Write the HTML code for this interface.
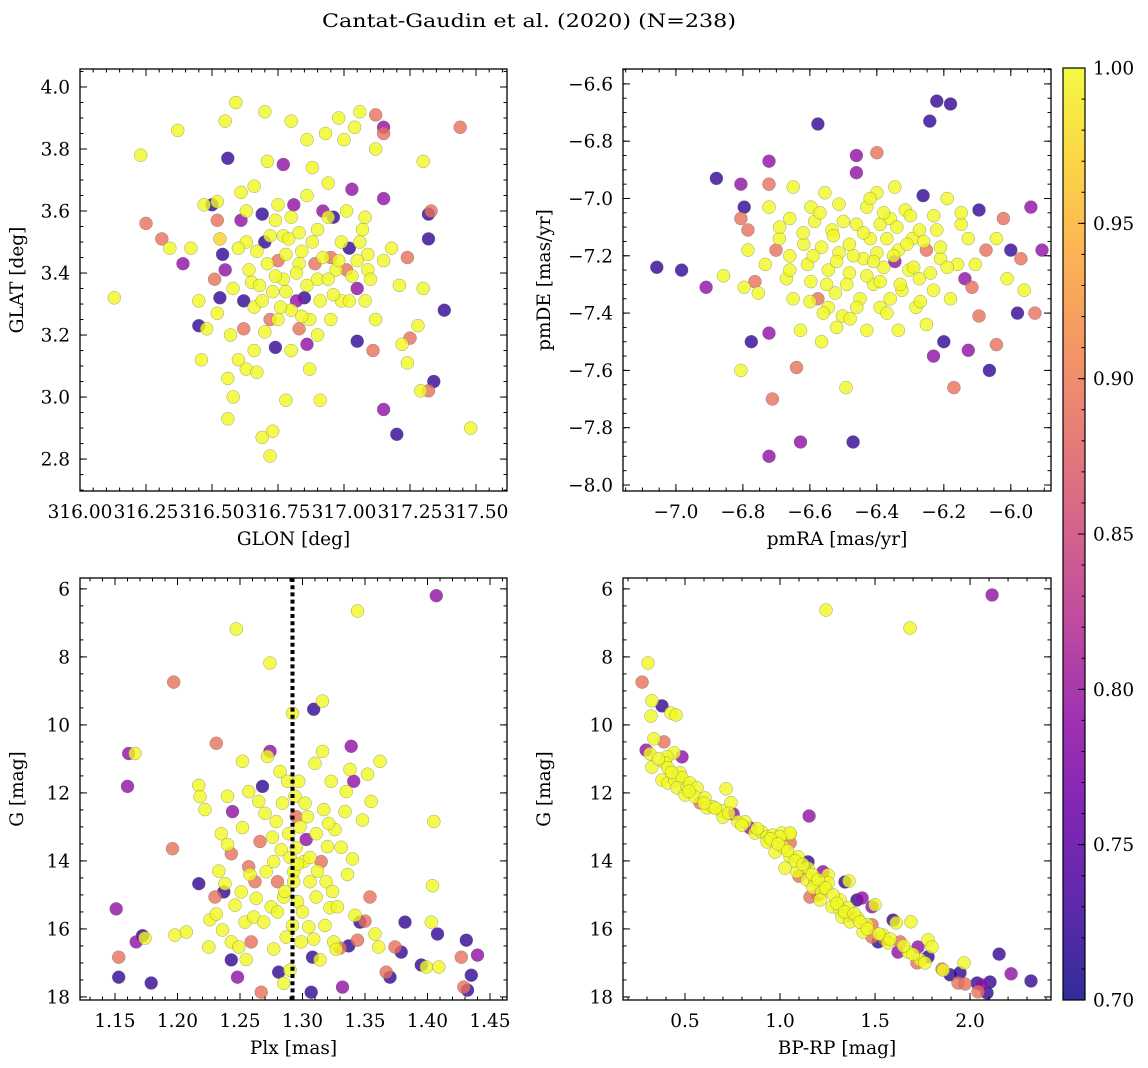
<!DOCTYPE html>
<html><head><meta charset="utf-8"><style>
html,body{margin:0;padding:0;background:#fff;}
svg{display:block;font-family:"DejaVu Serif","Liberation Serif",serif;}
</style></head><body>
<svg id="fig" width="1148" height="1068" viewBox="0 0 1148 1068" xmlns="http://www.w3.org/2000/svg">
<defs>
<linearGradient id="plasma" x1="0" y1="1" x2="0" y2="0">
<stop offset="0" stop-color="#0d0887"/><stop offset="0.1" stop-color="#41049d"/><stop offset="0.2" stop-color="#6a00a8"/><stop offset="0.3" stop-color="#8f0da4"/><stop offset="0.4" stop-color="#b12a90"/><stop offset="0.5" stop-color="#cc4778"/><stop offset="0.6" stop-color="#e16462"/><stop offset="0.7" stop-color="#f2844b"/><stop offset="0.8" stop-color="#fca636"/><stop offset="0.9" stop-color="#fcce25"/><stop offset="1" stop-color="#f0f921"/>
</linearGradient>
</defs>
<text x="529" y="27" text-anchor="middle" font-size="19" textLength="414" lengthAdjust="spacingAndGlyphs">Cantat-Gaudin et al. (2020) (N=238)</text>
</svg>
<script>
// ---- data: [x, y, membership probability] ----
const tlData=[[316.13,3.32,1],[316.23,3.78,1],[316.25,3.56,.89],[316.31,3.51,.89],[316.34,3.48,1],[316.37,3.86,1],[316.39,3.43,.79],[316.42,3.48,1],[316.45,3.31,1],[316.45,3.23,.72],[316.46,3.12,1],[316.47,3.62,1],[316.48,3.22,1],[316.50,3.62,.72],[316.51,3.38,.89],[316.52,3.57,.89],[316.52,3.63,1],[316.53,3.51,.97],[316.53,3.32,.72],[316.54,3.46,.72],[316.55,3.41,.79],[316.55,3.89,1],[316.56,3.77,.72],[316.56,2.93,1],[316.56,3.06,1],[316.57,3.20,1],[316.58,3.00,1],[316.59,3.95,1],[316.61,3.57,.79],[316.61,3.66,1],[316.62,3.31,.72],[316.63,3.09,1],[316.63,3.50,1],[316.65,3.37,1],[316.66,3.29,1],[316.67,3.08,1],[316.69,2.87,1],[316.69,3.59,.72],[316.70,3.50,.72],[316.70,3.92,1],[316.71,3.76,1],[316.72,3.25,.89],[316.72,2.81,1],[316.73,2.89,1],[316.74,3.16,.72],[316.75,3.44,.89],[316.75,3.62,1],[316.77,3.52,1],[316.77,3.75,.79],[316.78,2.99,1],[316.78,3.34,1],[316.80,3.89,1],[316.80,3.15,1],[316.81,3.62,.79],[316.82,3.31,.79],[316.83,3.43,1],[316.83,3.22,.89],[316.84,3.47,1],[316.85,3.32,.72],[316.86,3.17,.79],[316.86,3.83,1],[316.87,3.09,1],[316.88,3.74,1],[316.89,3.43,.89],[316.90,3.54,1],[316.91,2.99,1],[316.91,3.31,1],[316.92,3.60,.79],[316.93,3.85,1],[316.94,3.69,1],[316.95,3.25,1],[316.95,3.45,.89],[316.96,3.58,.72],[316.97,3.41,1],[316.98,3.90,1],[316.99,3.31,1],[317.00,3.83,1],[317.01,3.41,.89],[317.02,3.48,.72],[317.03,3.67,.79],[317.04,3.87,1],[317.05,3.18,.72],[317.05,3.35,.79],[317.06,3.92,1],[317.07,3.54,1],[317.08,3.31,1],[317.09,3.46,1],[317.11,3.15,.89],[317.12,3.91,.89],[317.12,3.80,1],[317.15,3.87,.79],[317.15,3.85,.89],[317.15,3.64,.79],[317.15,3.44,1],[317.20,2.88,.72],[317.15,2.96,.79],[317.21,3.36,1],[317.22,3.17,1],[317.24,3.11,1],[317.24,3.45,.89],[317.25,3.19,.89],[317.28,3.23,1],[317.30,3.76,1],[317.29,3.02,1],[317.30,3.35,1],[317.32,3.51,.72],[317.32,3.59,.72],[317.33,3.60,.89],[317.34,3.05,.72],[317.32,3.02,.89],[317.38,3.28,.72],[317.44,3.87,.89],[317.48,2.90,1],[316.68,3.36,1],[316.73,3.34,1],[316.77,3.38,1],[316.80,3.28,1],[316.70,3.21,1],[316.75,3.25,1],[316.66,3.15,1],[316.87,3.25,1],[316.90,3.38,1],[316.94,3.38,1],[316.98,3.44,1],[317.02,3.31,1],[317.05,3.44,1],[317.09,3.41,1],[316.64,3.41,1],[316.60,3.48,1],[316.71,3.43,1],[316.83,3.53,1],[316.79,3.51,1],[316.62,3.22,.89],
[316.58,3.35,1],[316.60,3.12,1],[316.63,3.60,1],[316.67,3.47,1],[316.69,3.31,1],[316.72,3.52,1],[316.74,3.39,1],[316.76,3.29,1],[316.78,3.46,1],[316.80,3.58,1],[316.82,3.40,1],[316.84,3.26,1],[316.86,3.36,1],[316.88,3.50,1],[316.90,3.20,1],[316.92,3.45,1],[316.94,3.58,1],[316.96,3.33,1],[316.99,3.50,1],[317.01,3.60,1],[317.03,3.39,1],[317.06,3.50,1],[317.08,3.58,1],[317.10,3.38,1],[317.12,3.25,1],[316.74,3.57,1],[316.86,3.65,1],[316.66,3.68,1],[316.52,3.27,1],[317.18,3.48,1]];
const trData=[[-7.057,-7.24,.72],[-6.983,-7.25,.72],[-6.91,-7.31,.79],[-6.879,-6.93,.72],[-6.858,-7.27,1],[-6.806,-7.60,1],[-6.806,-6.95,.79],[-6.806,-7.07,.89],[-6.796,-7.31,1],[-6.785,-7.18,1],[-6.796,-7.03,.72],[-6.785,-7.11,.89],[-6.775,-7.50,.72],[-6.764,-7.29,.89],[-6.754,-7.33,1],[-6.733,-7.23,1],[-6.722,-6.87,.79],[-6.722,-6.95,.89],[-6.722,-7.47,.79],[-6.722,-7.03,1],[-6.712,-7.70,.89],[-6.722,-7.90,.79],[-6.701,-7.18,.89],[-6.691,-7.14,1],[-6.67,-7.28,1],[-6.66,-7.20,1],[-6.66,-7.07,1],[-6.65,-6.96,1],[-6.65,-7.35,1],[-6.64,-7.59,.89],[-6.628,-7.85,.79],[-6.628,-7.46,1],[-6.618,-7.16,1],[-6.607,-7.23,1],[-6.597,-7.03,1],[-6.597,-7.29,1],[-6.586,-7.08,1],[-6.576,-6.74,.72],[-6.576,-7.35,.89],[-6.565,-7.17,1],[-6.565,-7.50,1],[-6.555,-6.98,1],[-6.545,-7.25,1],[-6.545,-7.38,1],[-6.534,-7.11,1],[-6.524,-7.33,1],[-6.513,-7.19,1],[-6.513,-7.02,1],[-6.503,-7.41,1],[-6.492,-7.66,1],[-6.482,-7.16,1],[-6.482,-7.26,1],[-6.471,-7.85,.72],[-6.461,-6.85,.79],[-6.461,-6.91,.79],[-6.461,-7.09,1],[-6.45,-7.35,1],[-6.44,-7.21,1],[-6.43,-7.03,1],[-6.43,-7.46,1],[-6.42,-7.14,1],[-6.41,-7.30,1],[-6.40,-6.84,.89],[-6.40,-6.98,1],[-6.40,-7.19,1],[-6.39,-7.38,1],[-6.39,-7.09,1],[-6.38,-7.24,1],[-6.37,-7.14,1],[-6.36,-7.35,1],[-6.36,-7.07,1],[-6.346,-6.96,1],[-6.346,-7.22,.79],[-6.336,-7.46,1],[-6.336,-7.18,1],[-6.325,-7.32,1],[-6.315,-7.04,1],[-6.304,-7.25,1],[-6.294,-7.14,1],[-6.283,-7.38,1],[-6.273,-7.11,1],[-6.273,-7.28,1],[-6.262,-6.99,.72],[-6.252,-7.18,.89],[-6.252,-7.44,1],[-6.242,-6.73,.72],[-6.231,-7.55,.79],[-6.231,-7.32,1],[-6.221,-7.11,1],[-6.221,-6.66,.72],[-6.21,-7.21,1],[-6.2,-7.50,.72],[-6.19,-7.00,1],[-6.18,-6.67,.72],[-6.18,-7.35,1],[-6.17,-7.66,.89],[-6.159,-7.23,1],[-6.148,-7.09,1],[-6.148,-7.05,1],[-6.137,-7.28,.79],[-6.127,-7.14,1],[-6.127,-7.53,.79],[-6.116,-7.31,.89],[-6.106,-7.23,1],[-6.095,-7.04,.72],[-6.095,-7.41,.89],[-6.074,-7.18,.89],[-6.064,-7.60,.72],[-6.043,-7.51,.89],[-6.043,-7.14,1],[-6.022,-7.07,.89],[-6.011,-7.28,1],[-6.0,-7.18,.72],[-5.98,-7.40,.72],[-5.97,-7.21,.89],[-5.96,-7.32,1],[-5.94,-7.03,.79],[-5.928,-7.40,.89],[-5.907,-7.18,.79],
[-6.62,-7.12,1],[-6.59,-7.20,1],[-6.57,-7.05,1],[-6.55,-7.30,1],[-6.53,-7.13,1],[-6.52,-7.22,1],[-6.50,-7.08,1],[-6.49,-7.30,1],[-6.47,-7.20,1],[-6.46,-7.38,1],[-6.44,-7.12,1],[-6.43,-7.27,1],[-6.42,-7.00,1],[-6.41,-7.22,1],[-6.39,-7.29,1],[-6.38,-7.05,1],[-6.37,-7.40,1],[-6.35,-7.20,1],[-6.34,-7.10,1],[-6.33,-7.30,1],[-6.31,-7.16,1],[-6.30,-7.06,1],[-6.29,-7.24,1],[-6.27,-7.36,1],[-6.26,-7.15,1],[-6.24,-7.26,1],[-6.23,-7.06,1],[-6.21,-7.17,1],[-6.19,-7.24,1],[-6.56,-7.40,1],[-6.60,-7.36,1],[-6.52,-7.45,1],[-6.48,-7.42,1],[-6.66,-7.25,1],[-6.69,-7.10,1]];
const blData=[[1.151,15.41,.79],[1.153,16.83,.89],[1.153,17.42,.72],[1.160,11.81,.79],[1.161,10.84,.79],[1.166,10.84,1],[1.172,16.2,.72],[1.167,16.38,.79],[1.174,16.27,1],[1.179,17.59,.72],[1.196,13.64,.89],[1.197,8.74,.89],[1.198,16.18,1],[1.207,16.09,1],[1.217,14.67,.72],[1.217,11.78,1],[1.218,12.11,1],[1.222,12.49,1],[1.225,16.53,1],[1.226,15.73,1],[1.230,15.06,.89],[1.231,10.54,.89],[1.231,15.56,1],[1.235,13.2,1],[1.236,16.03,1],[1.237,14.91,.72],[1.238,14.67,1],[1.240,13.52,1],[1.243,16.91,.72],[1.243,13.79,.89],[1.243,16.38,1],[1.244,12.55,.79],[1.247,7.18,1],[1.248,17.42,.79],[1.249,16.53,1],[1.251,14.91,1],[1.252,11.07,1],[1.252,13.02,1],[1.254,15.8,1],[1.257,11.96,1],[1.257,14.17,.89],[1.259,16.38,.89],[1.261,15.65,1],[1.262,14.61,.89],[1.265,12.25,1],[1.266,13.43,.89],[1.267,17.86,.89],[1.268,11.81,.72],[1.269,15.8,1],[1.271,14.32,1],[1.272,10.93,1],[1.274,8.18,1],[1.274,10.78,.79],[1.275,15.35,1],[1.277,16.59,1],[1.277,14.02,1],[1.279,12.84,1],[1.280,14.61,.89],[1.281,17.27,.72],[1.282,11.37,1],[1.283,13.67,1],[1.285,15.06,1],[1.287,16.24,1],[1.288,11.66,1],[1.290,17.21,1],[1.290,13.9,1],[1.292,9.66,1],[1.293,14.32,1],[1.293,14.61,1],[1.295,13.61,1],[1.295,12.7,.89],[1.296,15.2,1],[1.297,11.66,1],[1.299,16.38,1],[1.301,14.02,1],[1.303,13.37,.79],[1.304,12.7,1],[1.305,15.94,1],[1.306,14.61,1],[1.307,17.86,.72],[1.308,16.83,.72],[1.309,9.54,.72],[1.310,11.13,1],[1.311,13.2,1],[1.311,15.06,1],[1.314,16.91,1],[1.315,14.02,.89],[1.316,10.78,1],[1.316,9.30,1],[1.317,12.49,1],[1.319,14.61,1],[1.320,13.58,1],[1.322,15.38,1],[1.323,11.66,1],[1.325,16.38,1],[1.326,13.08,1],[1.328,15.35,1],[1.330,16.56,.89],[1.332,17.71,.79],[1.334,12.55,1],[1.335,11.96,1],[1.337,16.50,.72],[1.338,11.31,1],[1.339,10.63,.79],[1.340,13.94,1],[1.341,11.66,.79],[1.344,6.65,1],[1.344,16.33,.89],[1.346,15.8,.72],[1.350,15.77,.89],[1.352,11.45,1],[1.354,15.06,.89],[1.355,12.25,1],[1.358,16.15,1],[1.361,16.53,1],[1.362,11.07,1],[1.367,17.27,.89],[1.370,17.42,.72],[1.374,16.53,.89],[1.379,16.68,.72],[1.382,15.8,.72],[1.407,6.2,.79],[1.395,17.06,.72],[1.399,17.12,1],[1.403,15.8,1],[1.404,14.73,1],[1.405,12.84,1],[1.408,16.15,.72],[1.409,17.12,1],[1.427,16.83,.89],[1.429,17.71,.89],[1.431,16.33,.72],[1.435,17.36,.72],[1.440,16.77,.79],[1.432,17.8,.72],
[1.258,14.4,1],[1.263,15.1,1],[1.270,12.6,1],[1.276,13.3,1],[1.280,15.5,1],[1.284,12.3,1],[1.286,14.9,1],[1.289,13.2,1],[1.292,15.9,1],[1.294,12.1,1],[1.296,14.1,1],[1.298,13.0,1],[1.300,15.5,1],[1.302,12.3,1],[1.306,13.9,1],[1.309,16.3,1],[1.312,14.3,1],[1.318,15.9,1],[1.321,12.9,1],[1.324,14.9,1],[1.327,16.6,1],[1.331,13.6,1],[1.336,14.4,1],[1.342,15.6,1],[1.348,12.8,1],[1.246,15.3,1],[1.240,12.1,1],[1.233,14.3,1],[1.255,16.9,1],[1.285,17.6,1]];
const brData=[[0.305,8.18,1],[0.274,8.74,.89],[0.326,9.29,1],[0.379,9.44,.72],[0.321,9.74,1],[0.426,9.65,1],[0.453,9.71,1],[0.337,10.41,1],[0.389,10.5,.89],[0.295,10.74,.79],[0.316,10.85,1],[0.484,10.94,.79],[0.442,10.82,1],[0.405,10.94,1],[0.326,11.24,1],[0.395,11.12,1],[0.41,11.26,1],[0.474,11.41,1],[0.379,11.62,1],[0.41,11.71,1],[0.447,11.62,1],[0.484,11.56,1],[0.458,11.85,1],[0.511,11.82,1],[0.526,11.71,1],[0.563,11.85,1],[0.5,12.06,1],[0.553,12.12,1],[0.605,12.15,1],[0.579,12.29,.89],[0.616,12.44,1],[0.647,12.41,1],[0.695,12.53,1],[0.7,12.71,1],[0.716,11.88,1],[0.742,12.29,1],[0.753,12.62,.79],[0.779,12.85,1],[0.816,12.85,1],[0.842,13.03,.79],[0.868,13.18,1],[0.905,13.15,1],[0.932,13.29,1],[0.963,13.24,1],[1.01,13.18,1],[1.053,13.21,1],[1.153,12.68,.79],[1.053,13.18,1],[1.0,13.29,1],[0.932,13.44,1],[0.974,13.74,1],[1.016,13.59,1],[1.053,13.47,.89],[1.053,13.88,1],[1.095,13.88,1],[1.147,14.03,.72],[1.026,14.21,1],[1.089,14.32,1],[1.147,14.21,1],[1.226,14.32,.79],[1.253,14.41,1],[1.142,14.56,1],[1.184,14.62,1],[1.253,14.65,1],[1.342,14.62,.72],[1.363,14.59,1],[1.174,14.79,1],[1.221,14.91,1],[1.158,15.06,.89],[1.211,15.15,1],[1.316,15.15,1],[1.405,15.15,.72],[1.432,15.09,.79],[1.274,15.35,1],[1.316,15.44,1],[1.358,15.38,1],[1.484,15.35,.79],[1.5,15.29,1],[1.326,15.65,1],[1.368,15.79,1],[1.41,15.68,1],[1.458,15.88,1],[1.484,15.88,.89],[1.595,15.74,.72],[1.611,15.82,1],[1.689,15.79,1],[1.437,16.09,1],[1.484,16.24,.89],[1.516,16.38,.72],[1.542,16.18,1],[1.568,16.41,1],[1.632,16.38,.89],[1.621,16.68,.79],[1.674,16.68,1],[1.726,16.53,.79],[1.779,16.32,1],[1.8,16.53,1],[1.779,16.82,.72],[1.737,16.91,1],[1.721,17.0,.89],[1.763,17.0,1],[1.853,17.18,.89],[1.858,17.21,1],[1.895,17.35,.72],[1.947,17.29,.72],[1.968,17.0,1],[1.937,17.59,.89],[1.974,17.62,.89],[2.037,17.59,.72],[2.063,17.65,.79],[2.105,17.56,.72],[2.042,17.85,.89],[2.089,17.88,.72],[2.153,16.74,.72],[2.216,17.32,.79],[2.321,17.53,.72],[1.242,6.62,1],[2.116,6.18,.79],[1.684,7.15,1],
[0.36,11.0,1],[0.43,11.4,1],[0.52,11.95,1],[0.60,12.3,1],[0.66,12.45,1],[0.73,12.6,1],[0.80,12.95,1],[0.88,13.05,1],[0.95,13.35,1],[0.99,13.5,1],[1.04,13.7,1],[1.08,14.0,1],[1.12,14.1,1],[1.17,14.4,1],[1.20,14.55,1],[1.24,14.8,1],[1.28,15.0,1],[1.30,15.25,1],[1.34,15.5,1],[1.39,15.55,1],[1.42,15.8,1],[1.46,16.0,1],[1.52,16.15,1],[1.58,16.3,1],[1.65,16.5,1],[1.70,16.75,1],[1.10,14.45,.89],[1.20,15.0,.89],[1.36,15.6,.89],[1.55,16.3,.89]];
const plxMean=[1.292];
// ---- tick labels ----
const tlXTicks=[316.00,316.25,316.50,316.75,317.00,317.25,317.50];
const tlXLabels=["316.00","316.25","316.50","316.75","317.00","317.25","317.50"];
const tlYTicks=[2.8,3.0,3.2,3.4,3.6,3.8,4.0];
const tlYLabels=["2.8","3.0","3.2","3.4","3.6","3.8","4.0"];
const trXTicks=[-7.0,-6.8,-6.6,-6.4,-6.2,-6.0];
const trXLabels=["−7.0","−6.8","−6.6","−6.4","−6.2","−6.0"];
const trYTicks=[-8.0,-7.8,-7.6,-7.4,-7.2,-7.0,-6.8,-6.6];
const trYLabels=["−8.0","−7.8","−7.6","−7.4","−7.2","−7.0","−6.8","−6.6"];
const blXTicks=[1.15,1.20,1.25,1.30,1.35,1.40,1.45];
const blXLabels=["1.15","1.20","1.25","1.30","1.35","1.40","1.45"];
const gTicks=[6,8,10,12,14,16,18];
const gLabels=["6","8","10","12","14","16","18"];
const brXTicks=[0.5,1.0,1.5,2.0];
const brXLabels=["0.5","1.0","1.5","2.0"];
const cbTicks=[0.70,0.75,0.80,0.85,0.90,0.95,1.00];
const cbLabels=["0.70","0.75","0.80","0.85","0.90","0.95","1.00"];

const NS="http://www.w3.org/2000/svg";
const svg=document.getElementById('fig');
function mk(tag,attrs,parent){const e=document.createElementNS(NS,tag);for(const k in attrs)e.setAttribute(k,attrs[k]);(parent||svg).appendChild(e);return e;}
const stops=[[13,8,135],[65,4,157],[106,0,168],[143,13,164],[177,42,144],[204,71,120],[225,100,98],[242,132,75],[252,166,54],[252,206,37],[240,249,33]];
function plasma(p){let t=(p-0.7)/0.3;t=Math.max(0,Math.min(1,t));const f=t*10;const i=Math.min(9,Math.floor(f));const u=f-i;const a=stops[i],b=stops[i+1];return 'rgb('+[0,1,2].map(k=>Math.round(a[k]+(b[k]-a[k])*u)).join(',')+')';}
const TF=18.5;
function panel(cfg){
  const g=mk('g',{});
  
  
  const sx=v=>cfg.x0+(v-cfg.xd[0])/(cfg.xd[1]-cfg.xd[0])*(cfg.x1-cfg.x0);
  const sy=v=>cfg.y0+(v-cfg.yd[0])/(cfg.yd[1]-cfg.yd[0])*(cfg.y1-cfg.y0);
  const clip=mk('clipPath',{id:'c'+cfg.name},g);
  mk('rect',{x:cfg.x0,y:cfg.y0,width:cfg.x1-cfg.x0,height:cfg.y1-cfg.y0},clip);
  const pts=mk('g',{'clip-path':'url(#c'+cfg.name+')'},g);
  const sorted=cfg.data.slice().sort((a,b)=>a[2]-b[2]);
  sorted.forEach(d=>{
    const c=mk('circle',{cx:sx(d[0]).toFixed(1),cy:sy(d[1]).toFixed(1),r:6.5,fill:plasma(d[2]),'fill-opacity':0.8,stroke:'#666','stroke-width':0.5,'stroke-opacity':0.6},pts);
    
    
  });
  if(cfg.vline){cfg.vline.forEach(v=>{
    const l=mk('line',{x1:sx(v),x2:sx(v),y1:cfg.y0,y2:cfg.y1,stroke:'#000','stroke-width':4,'stroke-dasharray':'4 3.2'},pts);
    
    
  });}
  const fr=mk('rect',{x:cfg.x0,y:cfg.y0,width:cfg.x1-cfg.x0,height:cfg.y1-cfg.y0,fill:'none',stroke:'#000','stroke-width':1.3},g);
  
  
  const tk=mk('g',{stroke:'#000','stroke-width':1},g);
  for(let v=cfg.xm[0];v<=cfg.xm[1]+1e-9;v+=cfg.xm[2]){const x=sx(v);if(x<cfg.x0-0.5||x>cfg.x1+0.5)continue;mk('line',{x1:x,x2:x,y1:cfg.y1,y2:cfg.y1-3.5},tk);mk('line',{x1:x,x2:x,y1:cfg.y0,y2:cfg.y0+3.5},tk);}
  for(let v=cfg.ym[0];v<=cfg.ym[1]+1e-9;v+=cfg.ym[2]){const y=sy(v);if(y<cfg.y0-0.5||y>cfg.y1+0.5)continue;mk('line',{x1:cfg.x0,x2:cfg.x0+3.5,y1:y,y2:y},tk);mk('line',{x1:cfg.x1,x2:cfg.x1-3.5,y1:y,y2:y},tk);}
  cfg.xt.forEach((v,i)=>{const x=sx(v);mk('line',{x1:x,x2:x,y1:cfg.y1,y2:cfg.y1-7},tk);mk('line',{x1:x,x2:x,y1:cfg.y0,y2:cfg.y0+7},tk);
    const t=mk('text',{x:x,y:cfg.y1+27,'text-anchor':'middle','font-size':TF},g);t.textContent=cfg.xl[i];
    
    });
  cfg.yt.forEach((v,i)=>{const y=sy(v);mk('line',{x1:cfg.x0,x2:cfg.x0+7,y1:y,y2:y},tk);mk('line',{x1:cfg.x1,x2:cfg.x1-7,y1:y,y2:y},tk);
    const t=mk('text',{x:cfg.x0-10,y:y+6.5,'text-anchor':'end','font-size':TF},g);t.textContent=cfg.yl[i];
    
    });
  const xt=mk('text',{x:(cfg.x0+cfg.x1)/2,y:cfg.y1+54,'text-anchor':'middle','font-size':18.5},g);xt.textContent=cfg.xtitle;
  
  
  const cy=(cfg.y0+cfg.y1)/2;
  const yt=mk('text',{x:cfg.ytx,y:cy,'text-anchor':'middle','font-size':18.5,transform:'rotate(-90 '+cfg.ytx+' '+cy+')'},g);yt.textContent=cfg.ytitle;
  
  
}
panel({name:'glon-glat-panel',x0:80,x1:507,y0:69,y1:491,xd:[316.0,317.6174],yd:[4.058,2.697],data:tlData,xt:tlXTicks,xl:tlXLabels,yt:tlYTicks,yl:tlYLabels,xm:[316.0,317.65,0.05],ym:[2.7,4.06,0.05],xtitle:'GLON [deg]',ytitle:'GLAT [deg]',ytx:23});
panel({name:'proper-motion-panel',x0:623,x1:1051,y0:69,y1:491,xd:[-7.158,-5.880],yd:[-6.548,-8.021],data:trData,xt:trXTicks,xl:trXLabels,yt:trYTicks,yl:trYLabels,xm:[-7.15,-5.88,0.05],ym:[-8.0,-6.55,0.05],xtitle:'pmRA [mas/yr]',ytitle:'pmDE [mas/yr]',ytx:550});
panel({name:'parallax-mag-panel',x0:80,x1:507,y0:578,y1:1000,xd:[1.122,1.4636],yd:[5.68,18.09],data:blData,vline:plxMean,xt:blXTicks,xl:blXLabels,yt:gTicks,yl:gLabels,xm:[1.13,1.465,0.01],ym:[6,18.05,0.5],xtitle:'Plx [mas]',ytitle:'G [mag]',ytx:23});
panel({name:'cmd-panel',x0:623,x1:1051,y0:578,y1:1000,xd:[0.1737,2.426],yd:[5.68,18.09],data:brData,xt:brXTicks,xl:brXLabels,yt:gTicks,yl:gLabels,xm:[0.2,2.42,0.1],ym:[6,18.05,0.5],xtitle:'BP-RP [mag]',ytitle:'G [mag]',ytx:550});

// colorbar
const cb=mk('g',{});


const cbx0=1063,cbx1=1085,cby0=68,cby1=1000;
const cbY=v=>cby1-(v-0.7)/0.3*(cby1-cby0);
mk('rect',{x:cbx0,y:cby0,width:cbx1-cbx0,height:cby1-cby0,fill:'url(#plasma)','fill-opacity':0.85,stroke:'#000','stroke-width':1.2},cb);
for(let v=0.70;v<=1.0001;v+=0.01){const y=cbY(v);mk('line',{x1:cbx1,x2:cbx1-3.5,y1:y,y2:y,stroke:'#000','stroke-width':1},cb);}
cbTicks.forEach((v,i)=>{const y=cbY(v);mk('line',{x1:cbx1,x2:cbx1-7,y1:y,y2:y,stroke:'#000','stroke-width':1},cb);
  const t=mk('text',{x:cbx1+8,y:y+6.5,'font-size':TF},cb);t.textContent=cbLabels[i];
  
  });
</script>
</body></html>
